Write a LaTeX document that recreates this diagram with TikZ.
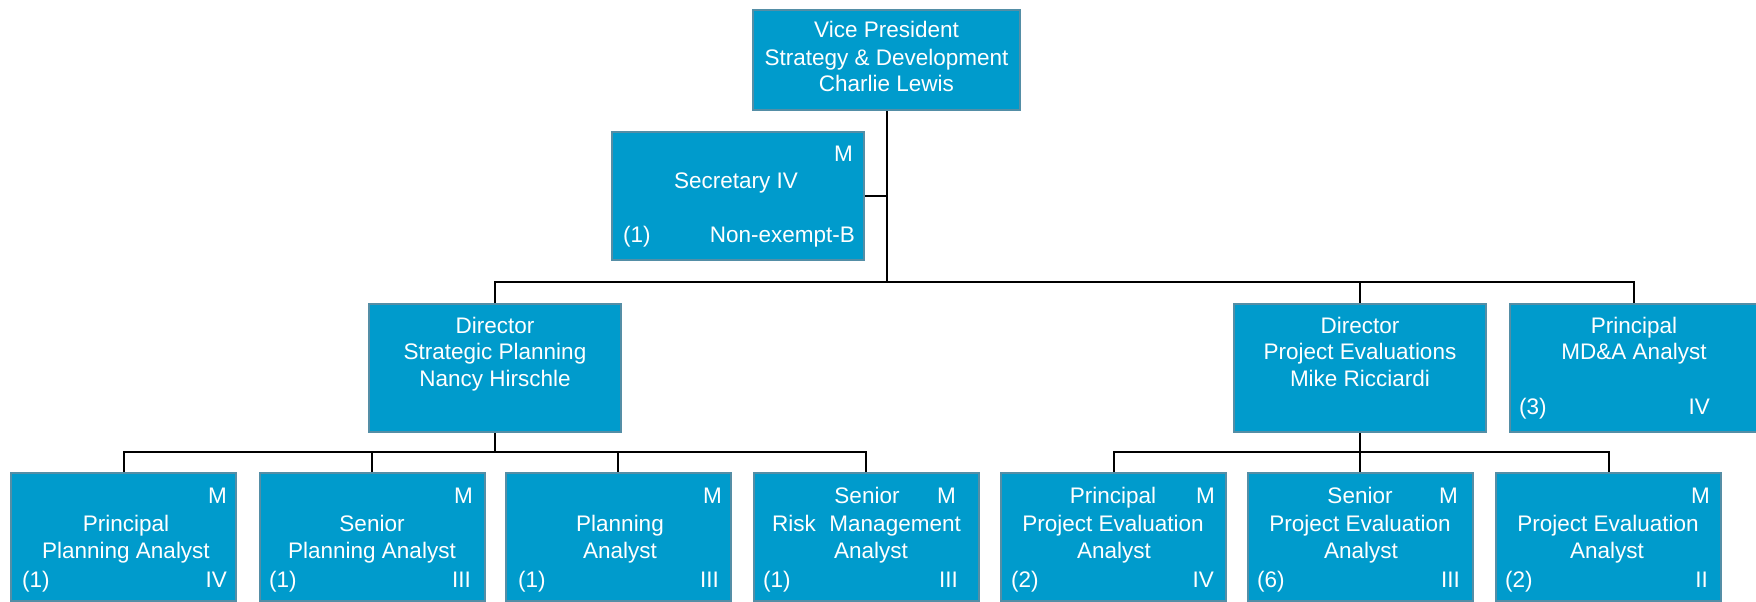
\documentclass[tikz,border=0pt]{standalone}
\usepackage{fontspec}
\setmainfont{Liberation Sans}
\definecolor{boxfill}{RGB}{0,155,204}
\definecolor{boxline}{RGB}{84,142,166}
\tikzset{
  bx/.style={draw=boxline, fill=boxfill, line width=2pt, inner sep=0pt, rectangle},
  tx/.style={text=white, inner sep=0pt, font=\fontsize{22.5}{27}\selectfont},
  link/.style={draw=black, line width=2pt}
}
\newcommand\orgtxt[4]{\node[tx,anchor=#1] (#2) at (#3) {#4};}
\begin{document}
\begin{tikzpicture}[x=1pt,y=-1pt]
\useasboundingbox (0,0) rectangle (1756,602);
% boxes
\node[bx, minimum width=267pt, minimum height=100pt] (vp) at (886.5,60) {};
\node[bx, minimum width=252pt, minimum height=128pt] (sec) at (738,196) {};
\node[bx, minimum width=252pt, minimum height=128pt] (dsp) at (495,368) {};
\node[bx, minimum width=252pt, minimum height=128pt] (dpe) at (1360,368) {};
\node[bx, minimum width=248pt, minimum height=128pt] (mda) at (1634,368) {};
\node[bx, minimum width=225pt, minimum height=128pt] (b1) at (123.5,537) {};
\node[bx, minimum width=225pt, minimum height=128pt] (b2) at (372,537) {};
\node[bx, minimum width=225pt, minimum height=128pt] (b3) at (618,537) {};
\node[bx, minimum width=225pt, minimum height=128pt] (b4) at (866,537) {};
\node[bx, minimum width=225pt, minimum height=128pt] (b5) at (1113.5,537) {};
\node[bx, minimum width=225pt, minimum height=128pt] (b6) at (1360,537) {};
\node[bx, minimum width=225pt, minimum height=128pt] (b7) at (1608.5,537) {};
% connectors
\coordinate (vpbus) at (886.5,282);
\coordinate (secj) at (886.5,196);
\coordinate (lbus) at (495,452);
\coordinate (rbus) at (1360,452);
\draw[link] (vp.south) -- (vpbus);
\draw[link] (sec.east) -- (secj);
\draw[link] (dsp.north) |- (vpbus) -| (mda.north);
\draw[link] (vpbus) -| (dpe.north);
\draw[link] (dsp.south) -- (lbus);
\draw[link] (b1.north) |- (lbus) -| (b4.north);
\draw[link] (lbus) -| (b2.north);
\draw[link] (lbus) -| (b3.north);
\draw[link] (dpe.south) -- (rbus);
\draw[link] (b5.north) |- (rbus) -| (b7.north);
\draw[link] (rbus) -- (b6.north);
% VP
\orgtxt{base}{vp1}{886.5,38}{Vice President}
\orgtxt{base}{vp2}{886.5,65.5}{Strategy \& Development}
\orgtxt{base}{vp3}{886.5,92}{Charlie Lewis}
% Secretary
\orgtxt{base east}{secm}{853,161}{M}
\orgtxt{base}{sect}{736,188}{Secretary IV}
\orgtxt{base west}{secc}{623,242}{(1)}
\orgtxt{base east}{secg}{855,242}{Non-exempt-B}
% Directors
\orgtxt{base}{dsp1}{495,333}{Director}
\orgtxt{base}{dsp2}{495,359}{Strategic Planning}
\orgtxt{base}{dsp3}{495,386}{Nancy Hirschle}
\orgtxt{base}{dpe1}{1360,333}{Director}
\orgtxt{base}{dpe2}{1360,359}{Project Evaluations}
\orgtxt{base}{dpe3}{1360,386}{Mike Ricciardi}
% MD&A
\orgtxt{base}{mda1}{1634,333}{Principal}
\orgtxt{base}{mda2}{1634,359}{MD\&A Analyst}
\orgtxt{base west}{mdac}{1519,414}{(3)}
\orgtxt{base east}{mdag}{1710,414}{IV}
% b1
\orgtxt{base east}{b1m}{227,503}{M}
\orgtxt{base}{b1a}{126,531}{Principal}
\orgtxt{base}{b1b}{126,558}{Planning Analyst}
\orgtxt{base west}{b1c}{22,587}{(1)}
\orgtxt{base east}{b1g}{227,587}{IV}
% b2
\orgtxt{base east}{b2m}{473,503}{M}
\orgtxt{base}{b2a}{372,531}{Senior}
\orgtxt{base}{b2b}{372,558}{Planning Analyst}
\orgtxt{base west}{b2c}{269,587}{(1)}
\orgtxt{base east}{b2g}{471,587}{III}
% b3
\orgtxt{base east}{b3m}{722,503}{M}
\orgtxt{base}{b3a}{620,531}{Planning}
\orgtxt{base}{b3b}{620,558}{Analyst}
\orgtxt{base west}{b3c}{518,587}{(1)}
\orgtxt{base east}{b3g}{719,587}{III}
% b4
\orgtxt{base east}{b4m}{956,503}{M}
\orgtxt{base}{b4a}{867,503}{Senior}
\orgtxt{base west}{b4b}{772,531}{Risk}
\orgtxt{base east}{b4d}{961,531}{Management}
\orgtxt{base}{b4e}{871,558}{Analyst}
\orgtxt{base west}{b4c}{763,587}{(1)}
\orgtxt{base east}{b4g}{958,587}{III}
% b5
\orgtxt{base east}{b5m}{1215,503}{M}
\orgtxt{base}{b5a}{1113,503}{Principal}
\orgtxt{base}{b5b}{1113,531}{Project Evaluation}
\orgtxt{base}{b5d}{1114,558}{Analyst}
\orgtxt{base west}{b5c}{1011,587}{(2)}
\orgtxt{base east}{b5g}{1214,587}{IV}
% b6
\orgtxt{base east}{b6m}{1458,503}{M}
\orgtxt{base}{b6a}{1360,503}{Senior}
\orgtxt{base}{b6b}{1360,531}{Project Evaluation}
\orgtxt{base}{b6d}{1361,558}{Analyst}
\orgtxt{base west}{b6c}{1257,587}{(6)}
\orgtxt{base east}{b6g}{1460,587}{III}
% b7
\orgtxt{base east}{b7m}{1710,503}{M}
\orgtxt{base}{b7b}{1608,531}{Project Evaluation}
\orgtxt{base}{b7d}{1607,558}{Analyst}
\orgtxt{base west}{b7c}{1505,587}{(2)}
\orgtxt{base east}{b7g}{1708,587}{II}
\end{tikzpicture}
\end{document}
